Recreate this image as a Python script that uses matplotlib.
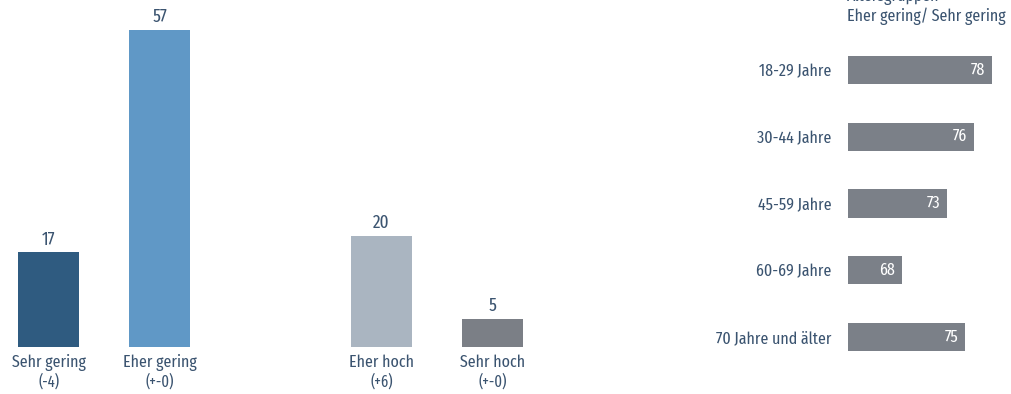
import matplotlib.pyplot as plt

plt.rcParams['font.family'] = ['Fira Sans Extra Condensed', 'Fira Sans Condensed', 'DejaVu Sans']

# left chart data
cats = ['Sehr gering', 'Eher gering', 'Eher hoch', 'Sehr hoch']
changes = ['(-4)', '(+-0)', '(+6)', '(+-0)']
vals = [17, 57, 20, 5]
pos = [0, 1, 3, 4]
cols = ['#2f5b80', '#6098c6', '#aab5c1', '#7b7f86']

# right chart data
ages = ['18-29 Jahre', '30-44 Jahre', '45-59 Jahre', '60-69 Jahre', '70 Jahre und älter']
age_vals = [78, 76, 73, 68, 75]

txt = '#3b5470'
W, H = 1011, 394
fig = plt.figure(figsize=(W / 100, H / 100), dpi=100)

#%% left bars
ax = fig.add_axes([1 / W, 47 / H, 536 / W, 344.7 / H])
ax.bar(pos, vals, width=0.55, color=cols)
ax.set_xlim(-0.43, 4.4)
ax.set_ylim(0, 62)
ax.axis('off')
for p, v, c, ch in zip(pos, vals, cats, changes):
    ax.annotate(str(v), (p, v), xytext=(0, 3), textcoords='offset points',
                ha='center', va='bottom', fontsize=13.5, color=txt)
    ax.annotate(c, (p, 0), xytext=(0, -11), textcoords='offset points',
                ha='center', va='center', fontsize=12.5, color=txt)
    ax.annotate(ch, (p, 0), xytext=(0, -25), textcoords='offset points',
                ha='center', va='center', fontsize=11.5, color=txt)

#%% right bars
ax2 = fig.add_axes([848 / W, 17 / H, 162 / W, 347 / H])
ypos = list(range(len(ages)))
ax2.barh(ypos, age_vals, left=0, height=0.42, color='#7b8088')
ax2.set_xlim(62, 80)
ax2.set_ylim(4.6, -0.6)
ax2.set_yticks(ypos)
ax2.set_yticklabels(ages, fontsize=12.5, color=txt)
ax2.tick_params(axis='y', length=0, pad=12)
ax2.set_xticks([])
for s in ax2.spines.values():
    s.set_visible(False)
for y, v in zip(ypos, age_vals):
    ax2.annotate(str(v), (v, y), xytext=(-5, 0), textcoords='offset points',
                 ha='right', va='center', fontsize=12.5, color='white')

fig.text(847 / W, 1 - 1 / H, 'Altersgruppen', ha='left', va='baseline',
         fontsize=12.5, color=txt)
fig.text(847 / W, 1 - 16 / H, 'Eher gering/ Sehr gering', ha='left', va='center',
         fontsize=12.5, color=txt)

fig.savefig('out.png', dpi=100)
